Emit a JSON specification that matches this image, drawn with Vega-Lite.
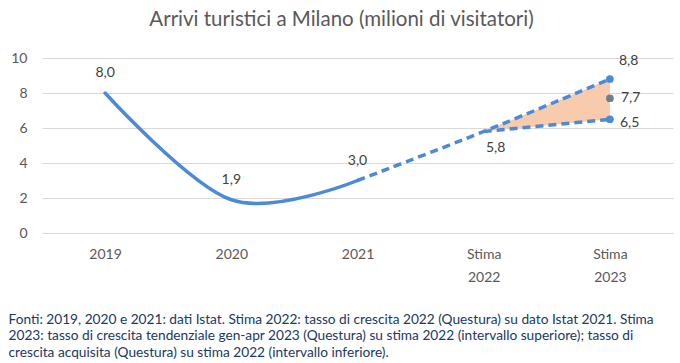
{
  "$schema": "https://vega.github.io/schema/vega-lite/v6.json",
  "autosize": "none",
  "width": 631,
  "height": 175,
  "padding": {"left": 42, "top": 58, "right": 7, "bottom": 130},
  "background": "white",
  "config": {
    "font": "Lato",
    "view": {"stroke": null}
  },
  "title": {
    "text": "Arrivi turistici a Milano (milioni di visitatori)",
    "fontSize": 20.5,
    "fontWeight": "normal",
    "color": "#595959",
    "anchor": "middle",
    "dx": -16,
    "offset": 21
  },
  "datasets": {
    "solid": [
      {"cat": "2019", "v": 8.0},
      {"cat": "2020", "v": 1.9},
      {"cat": "2021", "v": 3.0}
    ],
    "dashed": [
      {"cat": "2021", "v": 3.0, "serie": "sup"},
      {"cat": "Stima 2022", "v": 5.8, "serie": "sup"},
      {"cat": "Stima 2023", "v": 8.8, "serie": "sup"},
      {"cat": "Stima 2022", "v": 5.8, "serie": "inf"},
      {"cat": "Stima 2023", "v": 6.5, "serie": "inf"}
    ],
    "band": [
      {"cat": "Stima 2022", "lo": 5.8, "hi": 5.8},
      {"cat": "Stima 2023", "lo": 6.5, "hi": 8.8}
    ],
    "pts": [
      {"cat": "Stima 2023", "v": 8.8, "serie": "sup"},
      {"cat": "Stima 2023", "v": 6.5, "serie": "inf"},
      {"cat": "Stima 2023", "v": 7.7, "serie": "mid"}
    ],
    "labels": [
      {"cat": "2019", "v": 8.0, "label": "8,0"},
      {"cat": "2020", "v": 1.9, "label": "1,9"},
      {"cat": "2021", "v": 3.0, "label": "3,0"},
      {"cat": "Stima 2022", "v": 5.8, "label": "5,8"},
      {"cat": "Stima 2023", "v": 8.8, "label": "8,8"},
      {"cat": "Stima 2023", "v": 7.7, "label": "7,7"},
      {"cat": "Stima 2023", "v": 6.5, "label": "6,5"}
    ]
  },
  "encoding": {
    "x": {
      "field": "cat",
      "type": "ordinal",
      "scale": {"type": "point", "padding": 0.5, "domain": ["2019", "2020", "2021", "Stima 2022", "Stima 2023"]},
      "axis": {
        "title": [
          "Fonti: 2019, 2020 e 2021: dati Istat. Stima 2022: tasso di crescita 2022 (Questura) su dato Istat 2021. Stima",
          "2023: tasso di crescita tendenziale gen-apr 2023 (Questura) su stima 2022 (intervallo superiore); tasso di",
          "crescita acquisita (Questura) su stima 2022 (intervallo inferiore)."
        ],
        "titleAnchor": "start",
        "titleAlign": "left",
        "titleBaseline": "top",
        "titleX": -34,
        "titleY": 79,
        "titleFont": "Lato",
        "titleFontSize": 13.7,
        "titleFontWeight": "normal",
        "titleColor": "#203864",
        "titleLineHeight": 16.5,
        "labelExpr": "split(datum.value, ' ')",
        "labelAngle": 0,
        "labelFontSize": 14,
        "labelColor": "#595959",
        "labelPadding": 14,
        "labelLineHeight": 23,
        "labelBaseline": "top",
        "domain": false,
        "ticks": false,
        "grid": false
      }
    },
    "y": {
      "type": "quantitative",
      "scale": {"domain": [0, 10]},
      "axis": {
        "title": null,
        "values": [0, 2, 4, 6, 8, 10],
        "labelOverlap": false,
        "labelFontSize": 14,
        "labelColor": "#595959",
        "labelPadding": 15,
        "domain": false,
        "ticks": false,
        "gridColor": "#D9D9D9",
        "gridWidth": 1
      }
    }
  },
  "layer": [
    {
      "data": {"name": "band"},
      "mark": {"type": "area", "color": "#F8CBAD", "opacity": 1},
      "encoding": {
        "y": {"field": "lo", "type": "quantitative"},
        "y2": {"field": "hi"}
      }
    },
    {
      "data": {"name": "solid"},
      "mark": {"type": "line", "color": "#4A8AD8", "strokeWidth": 3.5, "interpolate": "cardinal", "tension": 0, "strokeCap": "round"},
      "encoding": {
        "y": {"field": "v", "type": "quantitative"}
      }
    },
    {
      "data": {"name": "dashed"},
      "mark": {"type": "line", "color": "#4A8AD8", "strokeWidth": 3.5, "interpolate": "cardinal", "tension": 0, "strokeDash": [8, 5]},
      "encoding": {
        "y": {"field": "v", "type": "quantitative"},
        "detail": {"field": "serie"}
      }
    },
    {
      "data": {"name": "pts"},
      "mark": {"type": "circle", "size": 60, "opacity": 1},
      "encoding": {
        "y": {"field": "v", "type": "quantitative"},
        "color": {
          "field": "serie",
          "type": "nominal",
          "scale": {"domain": ["sup", "inf", "mid"], "range": ["#4A8AD8", "#4A8AD8", "#6E7F95"]},
          "legend": null
        }
      }
    },
    {
      "data": {"name": "labels"},
      "transform": [{"filter": "datum.cat == '2019' || datum.cat == '2020' || datum.cat == '2021'"}],
      "mark": {"type": "text", "fontSize": 14, "color": "#404040", "dy": -20, "dx": 0},
      "encoding": {
        "y": {"field": "v", "type": "quantitative"},
        "text": {"field": "label"}
      }
    },
    {
      "data": {"name": "labels"},
      "transform": [{"filter": "datum.cat == 'Stima 2022'"}],
      "mark": {"type": "text", "fontSize": 14, "color": "#404040", "dy": 16, "dx": 12},
      "encoding": {
        "y": {"field": "v", "type": "quantitative"},
        "text": {"field": "label"}
      }
    },
    {
      "data": {"name": "labels"},
      "transform": [{"filter": "datum.cat == 'Stima 2023' && datum.v > 8"}],
      "mark": {"type": "text", "fontSize": 14, "color": "#404040", "align": "left", "dy": -18, "dx": 9},
      "encoding": {
        "y": {"field": "v", "type": "quantitative"},
        "text": {"field": "label"}
      }
    },
    {
      "data": {"name": "labels"},
      "transform": [{"filter": "datum.cat == 'Stima 2023' && datum.v > 7 && datum.v < 8"}],
      "mark": {"type": "text", "fontSize": 14, "color": "#404040", "align": "left", "dy": 0, "dx": 11},
      "encoding": {
        "y": {"field": "v", "type": "quantitative"},
        "text": {"field": "label"}
      }
    },
    {
      "data": {"name": "labels"},
      "transform": [{"filter": "datum.cat == 'Stima 2023' && datum.v < 7"}],
      "mark": {"type": "text", "fontSize": 14, "color": "#404040", "align": "left", "dy": 4, "dx": 10},
      "encoding": {
        "y": {"field": "v", "type": "quantitative"},
        "text": {"field": "label"}
      }
    }
  ]
}
